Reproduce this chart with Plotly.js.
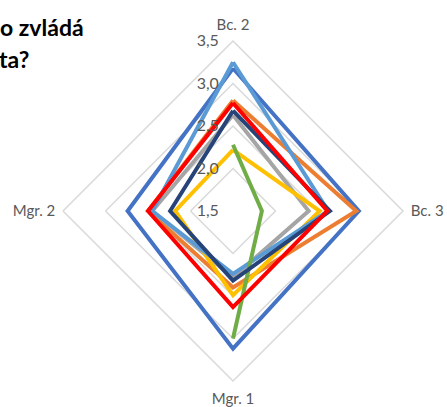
<!DOCTYPE html>
<html>
<head>
<meta charset="utf-8">
<script src="https://cdn.plot.ly/plotly-3.0.1.min.js"></script>
<style>html,body{margin:0;padding:0;background:#fff;}#chart{width:447px;height:407px;}</style>
</head>
<body>
<div id="chart"></div>
<script>
var categories = ["Bc. 2", "Bc. 3", "Mgr. 1", "Mgr. 2"];
var radialTicks = [1.5, 2.0, 2.5, 3.0, 3.5];
var radialTickText = ["1,5", "2,0", "2,5", "3,0", "3,5"];

var seriesBlue      = [3.18, 2.98, 3.12, 2.74];
var seriesOrange    = [2.80, 2.95, 2.40, 2.50];
var seriesGray      = [2.63, 2.39, 2.28, 2.45];
var seriesYellow    = [2.22, 2.52, 2.49, 2.18];
var seriesLightBlue = [3.25, 2.62, 2.24, 2.45];
var seriesGreen     = [2.28, 1.84, 3.00, null];
var seriesDarkBlue  = [2.68, 2.64, 2.32, 2.24];
var seriesRed       = [2.77, 2.61, 2.63, 2.50];

var titleLines = ["o zvládá", "ta?"];

var seriesList = [
  {name: "Blue", values: seriesBlue, color: "#4472C4"},
  {name: "Orange", values: seriesOrange, color: "#ED7D31"},
  {name: "Gray", values: seriesGray, color: "#A5A5A5"},
  {name: "Yellow", values: seriesYellow, color: "#FFC000"},
  {name: "LightBlue", values: seriesLightBlue, color: "#5B9BD5"},
  {name: "Green", values: seriesGreen, color: "#70AD47"},
  {name: "DarkBlue", values: seriesDarkBlue, color: "#264478"},
  {name: "Red", values: seriesRed, color: "#FF0000"}
];

var traces = seriesList.map(function(s) {
  return {
    type: "scatterpolar",
    mode: "lines",
    r: s.values.concat([s.values[0]]),
    theta: categories.concat([categories[0]]),
    connectgaps: false,
    name: s.name,
    line: {color: s.color, width: 4, shape: "linear"},
    hoverinfo: "skip"
  };
});

var W = 447, H = 407, cx = 233, cy = 211, R = 170;

var layout = {
  width: W, height: H,
  margin: {l: 0, r: 0, t: 0, b: 0},
  paper_bgcolor: "#ffffff",
  showlegend: false,
  font: {family: "Lato, 'Open Sans', sans-serif", color: "#595959", size: 13},
  polar: {
    domain: {x: [(cx - R) / W, (cx + R) / W], y: [(H - cy - R) / H, (H - cy + R) / H]},
    gridshape: "linear",
    bgcolor: "rgba(0,0,0,0)",
    angularaxis: {
      rotation: 90,
      direction: "clockwise",
      showgrid: false,
      showline: true,
      linecolor: "#D9D9D9",
      linewidth: 1.5,
      ticks: "outside",
      ticklen: 4,
      tickcolor: "rgba(0,0,0,0)",
      tickfont: {size: 15, color: "#595959", family: "Lato, sans-serif"}
    },
    radialaxis: {
      range: [1.5, 3.5],
      angle: 90,
      tickangle: 90,
      side: "counterclockwise",
      tickvals: radialTicks,
      ticktext: radialTickText,
      showline: false,
      gridcolor: "#D9D9D9",
      gridwidth: 1.5,
      ticks: "outside",
      ticklen: 8,
      tickcolor: "rgba(0,0,0,0)",
      tickfont: {size: 16, color: "#595959", family: "Lato, sans-serif"}
    }
  },
  annotations: [
    {text: "<b>" + titleLines[0] + "</b>", xref: "paper", yref: "paper", x: 86 / W, y: 1 - 27 / H,
     xanchor: "right", yanchor: "middle", showarrow: false, font: {size: 23, color: "#000000", family: "Lato, sans-serif"}},
    {text: "<b>" + titleLines[1] + "</b>", xref: "paper", yref: "paper", x: 31 / W, y: 1 - 59 / H,
     xanchor: "right", yanchor: "middle", showarrow: false, font: {size: 23, color: "#000000", family: "Lato, sans-serif"}}
  ]
};

Plotly.newPlot("chart", traces, layout, {displayModeBar: false, staticPlot: true});
</script>
</body>
</html>
